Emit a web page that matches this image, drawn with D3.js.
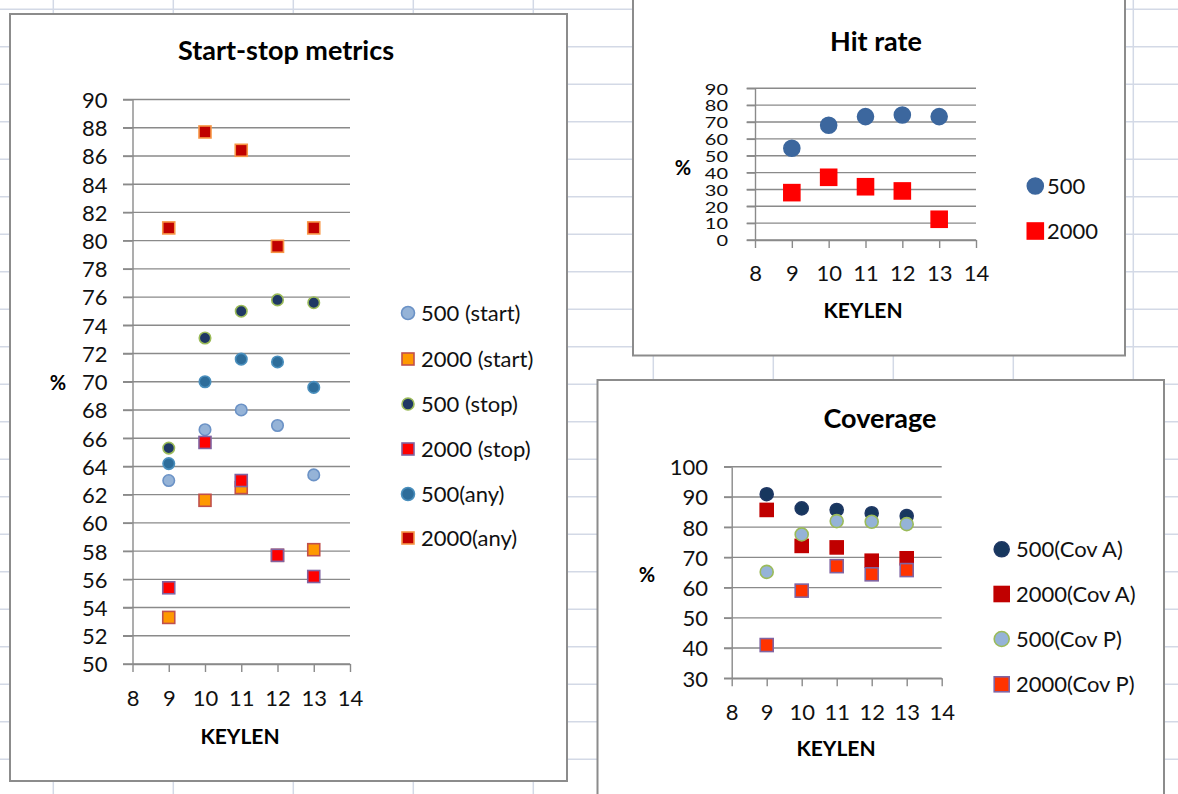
<!DOCTYPE html>
<html>
<head>
<meta charset="utf-8">
<script src="https://cdn.jsdelivr.net/npm/d3@7"></script>
<style>
  html, body { margin: 0; padding: 0; background: #fff; }
  svg { display: block; font-family: Lato, "Open Sans", sans-serif; }
</style>
</head>
<body>
<svg id="sheet" width="1178" height="794"></svg>
<script>
// ---- data -------------------------------------------------------------
const keylen = [9, 10, 11, 12, 13];
const xTicks = [8, 9, 10, 11, 12, 13, 14];

// Start-stop metrics (%)
const start500  = [63.0, 66.6, 68.0, 66.9, 63.4];
const start2000 = [53.3, 61.6, 62.5, 57.7, 58.1];
const stop500   = [65.3, 73.1, 75.0, 75.8, 75.6];
const stop2000  = [55.4, 65.7, 63.0, 57.7, 56.2];
const any500    = [64.2, 70.0, 71.6, 71.4, 69.6];
const any2000   = [80.9, 87.7, 86.4, 79.6, 80.9];
const startStopTicks = [50, 52, 54, 56, 58, 60, 62, 64, 66, 68, 70,
                        72, 74, 76, 78, 80, 82, 84, 86, 88, 90];

// Hit rate (%)
const hit500  = [54.4, 68.1, 73.2, 74.2, 73.2];
const hit2000 = [28.1, 37.2, 31.6, 29.1, 12.3];
const hitTicks = [0, 10, 20, 30, 40, 50, 60, 70, 80, 90];

// Coverage (%)
const covA500  = [90.9, 86.2, 85.7, 84.6, 83.7];
const covA2000 = [85.7, 73.8, 73.3, 68.9, 69.7];
const covP500  = [65.2, 77.6, 82.0, 81.8, 81.0];
const covP2000 = [41.0, 59.0, 67.1, 64.4, 65.8];
const coverageTicks = [30, 40, 50, 60, 70, 80, 90, 100];

// ---- chart definitions ---------------------------------------------------
const charts = [
  {
    title: "Start-stop metrics", titlePos: [286, 50],
    frame: { x: 10, y: 14, w: 557, h: 767 },
    xRange: [132.5, 350], yRange: [664, 99.5], yDomain: [50, 90], yTicks: startStopTicks,
    yTick: 9.5, yLabelRight: 107.5, xLabelOffset: 34.3, yLabelSize: 22, yLabelSquash: 1,
    pctPos: [58, 383], keylenPos: [240, 736],
    legend: { x: 408, textX: 421, ys: [313, 359, 404, 449, 494, 538] },
    series: [
      { name: "500 (start)",  values: start500,  shape: "circle", size: 11.5, lsize: 13, fill: "#95b3d7", stroke: "#6b92c6" },
      { name: "2000 (start)", values: start2000, shape: "square", size: 12,   lsize: 12, fill: "#ff9900", stroke: "#c0504d" },
      { name: "500 (stop)",   values: stop500,   shape: "circle", size: 11.5, lsize: 12, fill: "#1f3864", stroke: "#9bbb59" },
      { name: "2000 (stop)",  values: stop2000,  shape: "square", size: 12,   lsize: 12, fill: "#ff0000", stroke: "#8064a2" },
      { name: "500(any)",     values: any500,    shape: "circle", size: 11.5, lsize: 13, fill: "#2e6d9a", stroke: "#4a8fbd" },
      { name: "2000(any)",    values: any2000,   shape: "square", size: 12,   lsize: 12, fill: "#c00000", stroke: "#f79646" }
    ]
  },
  {
    title: "Hit rate", titlePos: [876, 41],
    frame: { x: 633, y: -10, w: 492, h: 365.5 },
    xRange: [755, 976], yRange: [240, 88.3], yDomain: [0, 90], yTicks: hitTicks,
    yTick: 8.3, yLabelRight: 728, xLabelOffset: 33.3, yLabelSize: 20, yLabelSquash: 0.8,
    pctPos: [683, 168], keylenPos: [863, 310],
    legend: { x: 1035.3, textX: 1047, ys: [186, 231] },
    series: [
      { name: "500",  values: hit500,  shape: "circle", size: 16, lsize: 16, fill: "#3c679e", stroke: "#3c679e" },
      { name: "2000", values: hit2000, shape: "square", size: 16, lsize: 16, fill: "#ff0000", stroke: "#ff0000" }
    ]
  },
  {
    title: "Coverage", titlePos: [880, 418],
    frame: { x: 597.5, y: 380, w: 566.5, h: 440 },
    xRange: [731.7, 941.7], yRange: [678.3, 466.7], yDomain: [30, 100], yTicks: coverageTicks,
    yTick: 7.7, yLabelRight: 708, xLabelOffset: 33.7, yLabelSize: 22, yLabelSquash: 1,
    pctPos: [647, 575], keylenPos: [836, 748],
    legend: { x: 1001.7, textX: 1016, ys: [549.3, 594, 639, 684.3] },
    series: [
      { name: "500(Cov A)",  values: covA500,  shape: "circle", size: 13, lsize: 15, fill: "#17375e", stroke: "#1f3864" },
      { name: "2000(Cov A)", values: covA2000, shape: "square", size: 13, lsize: 15, fill: "#c00000", stroke: "#c00000" },
      { name: "500(Cov P)",  values: covP500,  shape: "circle", size: 13, lsize: 15, fill: "#95b3d7", stroke: "#9bbb59" },
      { name: "2000(Cov P)", values: covP2000, shape: "square", size: 13, lsize: 15, fill: "#ff3300", stroke: "#8064a2" }
    ]
  }
];

// ---- worksheet background grid ------------------------------------------
const svg = d3.select("#sheet");
const W = 1178, H = 794;
const colLines = d3.range(53.3, W, 120);
const rowLines = d3.range(9.3, H, 37.5);
const sheet = svg.append("g").attr("stroke", "#d3d9e6").attr("stroke-width", 1.5);
sheet.selectAll("line.col").data(colLines).join("line")
  .attr("x1", d => d).attr("x2", d => d).attr("y1", 0).attr("y2", H);
sheet.selectAll("line.row").data(rowLines).join("line")
  .attr("y1", d => d).attr("y2", d => d).attr("x1", 0).attr("x2", W);

// ---- marker helper --------------------------------------------------------
function marker(sel, shape, size, fill, stroke) {
  if (shape === "circle") {
    sel.append("circle").attr("r", size / 2);
  } else {
    sel.append("rect").attr("x", -size / 2).attr("y", -size / 2)
      .attr("width", size).attr("height", size);
  }
  sel.select(":last-child").attr("fill", fill).attr("stroke", stroke).attr("stroke-width", 1.6);
}

// ---- draw every chart -----------------------------------------------------
charts.forEach(c => {
  const g = svg.append("g");
  g.append("rect")
    .attr("x", c.frame.x).attr("y", c.frame.y)
    .attr("width", c.frame.w).attr("height", c.frame.h)
    .attr("fill", "#fff").attr("stroke", "#8c8c8c").attr("stroke-width", 2);

  const x = d3.scaleLinear().domain([8, 14]).range(c.xRange);
  const y = d3.scaleLinear().domain(c.yDomain).range(c.yRange);
  const axisX = c.xRange[0];

  // horizontal gridlines
  g.append("g").selectAll("line").data(c.yTicks).join("line")
    .attr("x1", axisX - c.yTick).attr("x2", c.xRange[1])
    .attr("y1", d => y(d)).attr("y2", d => y(d))
    .attr("stroke", "#8a8a8a").attr("stroke-width", 1.4);

  // y axis
  const yAxis = g.append("g").attr("transform", `translate(${axisX},0)`)
    .call(d3.axisLeft(y).tickValues(c.yTicks).tickFormat(d3.format("d"))
      .tickSize(c.yTick).tickSizeOuter(0));
  yAxis.select(".domain").attr("stroke", "#8a8a8a").attr("stroke-width", 1.4);
  yAxis.selectAll(".tick line").attr("stroke", "#8a8a8a").attr("stroke-width", 1.4);
  yAxis.selectAll(".tick text")
    .attr("x", c.yLabelRight - axisX).attr("dy", "0.36em")
    .attr("transform", `scale(1,${c.yLabelSquash})`)
    .attr("font-size", c.yLabelSize).attr("font-family", "Lato, sans-serif").attr("fill", "#111");

  // x axis
  const xAxis = g.append("g").attr("transform", `translate(0,${c.yRange[0]})`)
    .call(d3.axisBottom(x).tickValues(xTicks).tickFormat(d3.format("d"))
      .tickSize(8).tickSizeOuter(0));
  xAxis.select(".domain").attr("stroke", "#8a8a8a").attr("stroke-width", 1.4);
  xAxis.selectAll(".tick line").attr("stroke", "#8a8a8a").attr("stroke-width", 1.4);
  xAxis.selectAll(".tick text")
    .attr("y", c.xLabelOffset).attr("dy", "0.36em")
    .attr("font-size", 22).attr("font-family", "Lato, sans-serif").attr("fill", "#111");

  // titles
  g.append("text").attr("x", c.titlePos[0]).attr("y", c.titlePos[1]).attr("dy", "0.36em")
    .attr("text-anchor", "middle").attr("font-weight", "bold").attr("font-size", 27)
    .attr("fill", "#000").text(c.title);
  g.append("text").attr("x", c.pctPos[0]).attr("y", c.pctPos[1]).attr("dy", "0.36em")
    .attr("text-anchor", "middle").attr("font-weight", "bold").attr("font-size", 20)
    .attr("fill", "#000").text("%");
  g.append("text").attr("x", c.keylenPos[0]).attr("y", c.keylenPos[1]).attr("dy", "0.36em")
    .attr("text-anchor", "middle").attr("font-weight", "bold").attr("font-size", 21)
    .attr("fill", "#000").text("KEYLEN");

  // data points, series in drawing order
  c.series.forEach(s => {
    const sg = g.append("g");
    s.values.forEach((v, i) => {
      const m = sg.append("g").attr("transform", `translate(${x(keylen[i])},${y(v)})`);
      marker(m, s.shape, s.size, s.fill, s.stroke);
    });
  });

  // legend
  c.series.forEach((s, i) => {
    const ly = c.legend.ys[i];
    const m = g.append("g").attr("transform", `translate(${c.legend.x},${ly})`);
    marker(m, s.shape, s.lsize, s.fill, s.stroke);
    g.append("text").attr("x", c.legend.textX).attr("y", ly).attr("dy", "0.36em")
      .attr("font-size", 22).attr("fill", "#111").text(s.name);
  });
});
</script>
</body>
</html>
